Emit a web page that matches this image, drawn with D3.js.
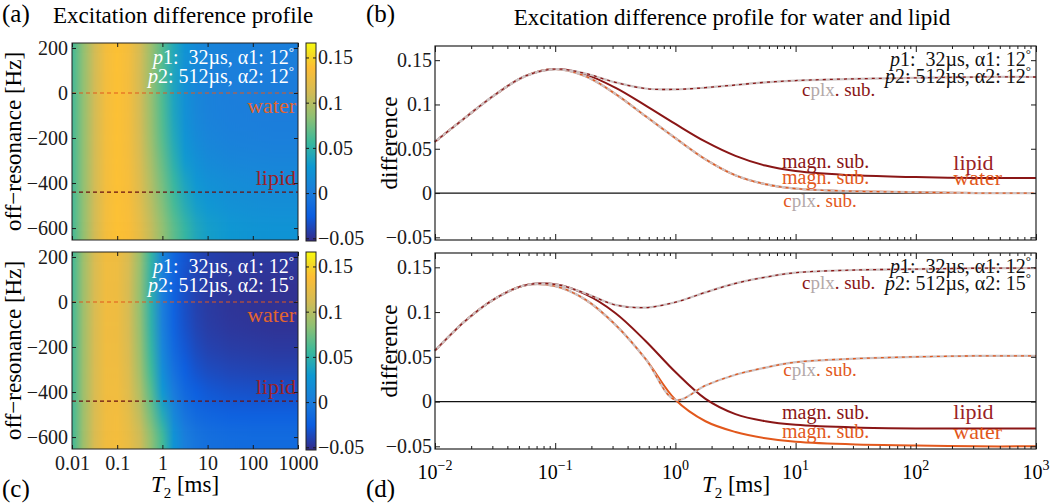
<!DOCTYPE html>
<html>
<head>
<meta charset="utf-8">
<script src="https://cdn.jsdelivr.net/npm/d3@7"></script>
<style>
  body { margin: 0; background: #fff; }
  svg text { font-family: "Liberation Serif", "DejaVu Serif", serif; }
</style>
</head>
<body>
<svg id="chart" width="1050" height="504"></svg>
<script>
// ---------- data ----------
const t2 = [0.01, 0.0178, 0.0316, 0.0562, 0.1, 0.178, 0.316, 0.562, 1, 1.78, 3.16, 5.62, 10, 31.6, 100, 316, 1000];
const offsets = [200, 100, 0, -100, -200, -300, -400, -500, -600];
const waterOffset = 0;
const lipidOffset = -440;

// heatmap (a): magnitude difference, rows follow `offsets`, columns follow `t2`
const mapA = [
  [.058, .085, .111, .132, .140, .132, .113, .089, .065, .042, .024, .014, .009, .005, .004, .003, .003],
  [.058, .085, .111, .132, .140, .132, .112, .088, .063, .039, .021, .011, .006, .003, .002, .001, .001],
  [.058, .085, .111, .132, .140, .132, .112, .087, .062, .038, .020, .010, .005, .002, .001, 0, 0],
  [.058, .085, .111, .132, .140, .132, .112, .088, .063, .039, .021, .011, .006, .003, .002, .001, .001],
  [.058, .085, .111, .132, .140, .132, .113, .089, .065, .042, .024, .014, .009, .005, .004, .003, .003],
  [.058, .085, .111, .132, .140, .133, .115, .093, .070, .047, .030, .020, .014, .010, .009, .008, .008],
  [.058, .085, .111, .132, .140, .134, .118, .097, .075, .054, .038, .027, .021, .017, .015, .014, .014],
  [.058, .085, .111, .132, .140, .135, .120, .100, .080, .060, .044, .033, .027, .021, .019, .018, .018],
  [.058, .085, .111, .132, .140, .136, .123, .105, .086, .068, .053, .041, .034, .028, .025, .024, .024]
];
// heatmap (c)
const mapC = [
  [.057, .090, .115, .130, .129, .115, .089, .052, .009, -.017, -.030, -.037, -.041, -.044, -.045, -.046, -.046],
  [.057, .090, .115, .130, .129, .114, .087, .049, .004, -.021, -.033, -.040, -.044, -.047, -.048, -.049, -.049],
  [.057, .090, .115, .130, .129, .114, .086, .048, .002, -.022, -.034, -.041, -.045, -.048, -.049, -.050, -.050],
  [.057, .090, .115, .130, .129, .114, .087, .049, .004, -.021, -.033, -.040, -.044, -.047, -.048, -.049, -.049],
  [.057, .090, .115, .130, .129, .115, .089, .052, .009, -.017, -.030, -.037, -.041, -.044, -.045, -.046, -.046],
  [.057, .090, .115, .130, .130, .117, .092, .057, .017, -.010, -.025, -.032, -.036, -.039, -.040, -.041, -.041],
  [.057, .090, .115, .130, .131, .119, .097, .065, .028, -.001, -.017, -.025, -.029, -.032, -.033, -.033, -.033],
  [.057, .090, .115, .130, .132, .122, .103, .074, .043, .011, -.008, -.016, -.020, -.023, -.024, -.024, -.024],
  [.057, .090, .115, .130, .133, .125, .110, .085, .059, .024, .003, -.006, -.010, -.013, -.014, -.014, -.014]
];

// profiles (b): alpha2 = 12 deg
const waterMagnB = [.058, .085, .111, .132, .140, .132, .112, .087, .062, .038, .020, .010, .005, .002, .001, 0, 0];
const waterCplxB = [.058, .085, .111, .132, .140, .132, .112, .087, .062, .038, .020, .010, .005, .002, .001, 0, 0];
const lipidMagnB = [.058, .085, .111, .132, .140, .134, .119, .099, .078, .058, .042, .031, .025, .020, .018, .017, .017];
const lipidCplxB = [.058, .085, .111, .132, .140, .135, .125, .118, .117, .119, .122, .125, .127, .129, .130, .131, .131];

// profiles (d): alpha2 = 15 deg
const waterMagnD = [.057, .090, .115, .130, .129, .114, .086, .048, .002, -.022, -.034, -.041, -.045, -.048, -.049, -.050, -.050];
const waterCplxD = [.057, .090, .115, .130, .129, .114, .086, .048, .002, .018, .030, .038, .044, .048, .050, .051, .051];
const lipidMagnD = [.057, .090, .115, .130, .131, .120, .099, .068, .033, .003, -.014, -.022, -.026, -.029, -.030, -.030, -.030];
const lipidCplxD = [.057, .090, .115, .130, .131, .121, .108, .105, .111, .122, .132, .139, .144, .147, .148, .149, .149];

const offsetTicks = [200, 0, -200, -400, -600];
const t2Ticks = [0.01, 0.1, 1, 10, 100, 1000];
const diffTicks = [0.15, 0.1, 0.05, 0, -0.05];
const pulse1 = ['32µs', '12'];
const pulse2B = ['512µs', '12'];
const pulse2D = ['512µs', '15'];

// ---------- setup ----------
const vMin = -0.053, vMax = 0.166;
const parula = ['#352a87', '#0b5de0', '#1a7ddb', '#0d98d2', '#3cb99a', '#8ec073', '#d3bb55', '#fdbd35', '#f4d926', '#f9fb0e'];
const parulaPos = [0, 0.125, 0.25, 0.375, 0.5, 0.625, 0.75, 0.875, 0.9375, 1];
const color = d3.scaleLinear()
  .domain(parulaPos.map(p => vMin + p * (vMax - vMin)))
  .range(parula)
  .clamp(true);

const waterCol = '#e2581c';
const lipidCol = '#8a1616';
const lipidText = '#9a2226';
const greyCol = '#cdc1c1';
const fmt = d3.format('~g');

const svg = d3.select('#chart');
const defs = svg.append('defs');

function styleAxis(sel, size) {
  sel.select('.domain').remove();
  sel.attr('font-family', null).attr('font-size', size).attr('color', '#1a1a1a');
}

// ---------- heatmaps ----------
const hx = d3.scaleLog().domain([0.01, 1000]).range([72, 298]);

function heatmap(id, grid, top, bottom, a2, showX) {
  const hy = d3.scaleLinear().domain([-653, 222]).range([bottom, top]);
  const [x0, x1] = hx.range();
  const g = svg.append('g');

  grid.forEach((row, i) => {
    const gr = defs.append('linearGradient').attr('id', `${id}-row${i}`)
      .attr('gradientUnits', 'userSpaceOnUse')
      .attr('x1', x0).attr('x2', x1).attr('y1', 0).attr('y2', 0);
    gr.selectAll('stop').data(row).join('stop')
      .attr('offset', (d, j) => (hx(t2[j]) - x0) / (x1 - x0))
      .attr('stop-color', d => color(d));
  });
  defs.append('clipPath').attr('id', id + '-clip')
    .append('rect').attr('x', x0).attr('y', top).attr('width', x1 - x0).attr('height', bottom - top);
  defs.append('filter').attr('id', id + '-blur')
    .attr('filterUnits', 'userSpaceOnUse')
    .attr('color-interpolation-filters', 'sRGB')
    .attr('x', x0 - 20).attr('y', top - 80).attr('width', x1 - x0 + 40).attr('height', bottom - top + 160)
    .append('feGaussianBlur').attr('stdDeviation', '0 9');

  const cells = g.append('g').attr('clip-path', `url(#${id}-clip)`)
    .append('g').attr('filter', `url(#${id}-blur)`);
  const last = offsets.length - 1;
  cells.selectAll('rect').data(offsets).join('rect')
    .attr('x', x0).attr('width', x1 - x0)
    .attr('y', (d, i) => i === 0 ? top - 50 : hy(d + 50))
    .attr('height', (d, i) => (i === last ? bottom + 50 : hy(d - 50)) - (i === 0 ? top - 50 : hy(d + 50)))
    .attr('fill', (d, i) => `url(#${id}-row${i})`);

  // water / lipid lines
  g.append('line').attr('x1', x0).attr('x2', x1).attr('y1', hy(waterOffset)).attr('y2', hy(waterOffset))
    .attr('stroke', waterCol).attr('stroke-width', 1.2).attr('stroke-dasharray', '4,3');
  g.append('line').attr('x1', x0).attr('x2', x1).attr('y1', hy(lipidOffset)).attr('y2', hy(lipidOffset))
    .attr('stroke', '#6a1010').attr('stroke-width', 1.2).attr('stroke-dasharray', '4,3');
  g.append('text').attr('x', x1 - 2).attr('y', hy(waterOffset) + 20).attr('text-anchor', 'end')
    .attr('font-size', 22).attr('fill', '#e3652e').text('water');
  g.append('text').attr('x', x1 - 2).attr('y', hy(lipidOffset) - 7).attr('text-anchor', 'end')
    .attr('font-size', 22).attr('fill', lipidText).text('lipid');

  pulseText(g, x1 - 4, top + 21, top + 40, a2, '#fff');

  g.append('rect').attr('x', x0).attr('y', top).attr('width', x1 - x0).attr('height', bottom - top)
    .attr('fill', 'none').attr('stroke', '#222').attr('stroke-width', 1);

  g.append('g').attr('transform', `translate(${x0},0)`)
    .call(d3.axisLeft(hy).tickValues(offsetTicks).tickSizeInner(-4).tickSizeOuter(0).tickPadding(4).tickFormat(d3.format('d')))
    .call(styleAxis, 20);
  g.append('g').attr('transform', `translate(${x1},0)`)
    .call(d3.axisRight(hy).tickValues(offsetTicks).tickSizeInner(-4).tickSizeOuter(0).tickFormat(''))
    .call(styleAxis, 20);
  g.append('g').attr('transform', `translate(0,${top})`)
    .call(d3.axisTop(hx).tickValues(t2Ticks).tickSizeInner(-4).tickSizeOuter(0).tickFormat(''))
    .call(styleAxis, 20);
  g.append('g').attr('transform', `translate(0,${bottom})`)
    .call(d3.axisBottom(hx).tickValues(t2Ticks).tickSizeInner(-4).tickSizeOuter(0).tickPadding(7)
      .tickFormat(showX ? fmt : ''))
    .call(styleAxis, 20);

  g.append('text').attr('transform', `translate(21,${(top + bottom) / 2}) rotate(-90)`)
    .attr('text-anchor', 'middle').attr('font-size', 23).text('off\u2212resonance [Hz]');

  // colorbar
  const cy = d3.scaleLinear().domain([vMin, vMax]).range([bottom + 1, top]);
  g.append('rect').attr('x', 306).attr('y', top).attr('width', 10).attr('height', bottom + 1 - top)
    .attr('fill', 'url(#parula)').attr('stroke', '#222').attr('stroke-width', 1);
  g.append('g').attr('transform', 'translate(316,0)')
    .call(d3.axisRight(cy).tickValues(diffTicks).tickSizeInner(-3).tickSizeOuter(0).tickPadding(2).tickFormat(fmt))
    .call(styleAxis, 20);
  g.append('g').attr('transform', 'translate(306,0)')
    .call(d3.axisLeft(cy).tickValues(diffTicks).tickSizeInner(-3).tickSizeOuter(0).tickFormat(''))
    .call(styleAxis, 20);
}

function pulseText(g, xEnd, y1, y2, p2, fill) {
  const lines = [[y1, '1:  ' + pulse1[0] + ', α1: ' + pulse1[1]], [y2, '2: ' + p2[0] + ', α2: ' + p2[1]]];
  lines.forEach(([y, s]) => {
    const t = g.append('text').attr('x', xEnd).attr('y', y).attr('text-anchor', 'end')
      .attr('font-size', 20).attr('fill', fill).style('white-space', 'pre');
    t.append('tspan').attr('font-style', 'italic').text('p');
    t.append('tspan').text(s);
    t.append('tspan').attr('dy', -8).attr('font-size', 13).text('°');
  });
}

const pg = defs.append('linearGradient').attr('id', 'parula')
  .attr('x1', 0).attr('y1', 1).attr('x2', 0).attr('y2', 0);
pg.selectAll('stop').data(parula).join('stop')
  .attr('offset', (d, i) => parulaPos[i])
  .attr('stop-color', d => d);

heatmap('ha', mapA, 43, 240, pulse2B, false);
heatmap('hc', mapC, 252, 449, pulse2D, true);

// ---------- profile panels ----------
const xL = d3.scaleLog().domain([0.01, 1000]).range([435, 1036]);
const majors = t2Ticks;
const minors = xL.ticks().filter(d => !majors.some(m => Math.abs(m - d) / m < 1e-6));

function cplxLabel(g, x, y, col) {
  const t = g.append('text').attr('x', x).attr('y', y).attr('font-size', 19).attr('fill', col);
  t.append('tspan').text('c');
  t.append('tspan').attr('fill', '#b3a8a8').text('plx');
  t.append('tspan').text('. sub.');
}

function profile(top, bottom, series, p2, labels, showX) {
  const y = d3.scaleLinear().domain([vMin, vMax]).range([bottom, top]);
  const g = svg.append('g');
  const line = d3.line().x((d, i) => xL(t2[i])).y(d => y(d)).curve(d3.curveCatmullRom.alpha(0.5));

  g.append('line').attr('x1', xL.range()[0]).attr('x2', xL.range()[1]).attr('y1', y(0)).attr('y2', y(0))
    .attr('stroke', '#111').attr('stroke-width', 1.2);

  g.append('path').attr('d', line(series.waterMagn)).attr('fill', 'none').attr('stroke', waterCol).attr('stroke-width', 2);
  g.append('path').attr('d', line(series.lipidMagn)).attr('fill', 'none').attr('stroke', lipidCol).attr('stroke-width', 2);
  [[series.waterCplx, waterCol], [series.lipidCplx, lipidCol]].forEach(([vals, col]) => {
    g.append('path').attr('d', line(vals)).attr('fill', 'none').attr('stroke', greyCol).attr('stroke-width', 2.2);
    g.append('path').attr('d', line(vals)).attr('fill', 'none').attr('stroke', col)
      .attr('stroke-width', 1.3).attr('stroke-dasharray', '3,4');
  });

  cplxLabel(g, xL(labels.cplxLipid[0]), y(labels.cplxLipid[1]), lipidCol);
  cplxLabel(g, xL(labels.cplxWater[0]), y(labels.cplxWater[1]), waterCol);
  g.append('text').attr('x', xL(labels.magnLipid[0])).attr('y', y(labels.magnLipid[1]))
    .attr('font-size', 20).attr('fill', lipidCol).text('magn. sub.');
  g.append('text').attr('x', xL(labels.magnWater[0])).attr('y', y(labels.magnWater[1]))
    .attr('font-size', 20).attr('fill', waterCol).text('magn. sub.');
  g.append('text').attr('x', xL(labels.lipid[0])).attr('y', y(labels.lipid[1]))
    .attr('font-size', 22).attr('fill', lipidText).text('lipid');
  g.append('text').attr('x', xL(labels.water[0])).attr('y', y(labels.water[1]))
    .attr('font-size', 22).attr('fill', waterCol).text('water');

  pulseText(g, 1031, top + 20, top + 37, p2, '#111');

  g.append('rect').attr('x', 435).attr('y', top).attr('width', 601).attr('height', bottom - top)
    .attr('fill', 'none').attr('stroke', '#222').attr('stroke-width', 1.2);

  g.append('g').attr('transform', 'translate(435,0)')
    .call(d3.axisLeft(y).tickValues(diffTicks).tickSizeInner(-5).tickSizeOuter(0).tickPadding(3).tickFormat(fmt))
    .call(styleAxis, 20);
  g.append('g').attr('transform', 'translate(1036,0)')
    .call(d3.axisRight(y).tickValues(diffTicks).tickSizeInner(-5).tickSizeOuter(0).tickFormat(''))
    .call(styleAxis, 20);
  [[top, d3.axisTop], [bottom, d3.axisBottom]].forEach(([yy, ax]) => {
    g.append('g').attr('transform', `translate(0,${yy})`)
      .call(ax(xL).tickValues(majors).tickSizeInner(-6).tickSizeOuter(0).tickFormat(''))
      .call(styleAxis, 20);
    g.append('g').attr('transform', `translate(0,${yy})`)
      .call(ax(xL).tickValues(minors).tickSizeInner(-3).tickSizeOuter(0).tickFormat(''))
      .call(styleAxis, 20);
  });

  if (showX) {
    const lab = g.append('g').selectAll('text').data(majors).join('text')
      .attr('x', d => xL(d)).attr('y', bottom + 30).attr('text-anchor', 'middle').attr('font-size', 20);
    lab.append('tspan').text('10');
    lab.append('tspan').attr('dy', -9).attr('font-size', 14).text(d => fmt(Math.round(Math.log10(d))));
  }

  g.append('text').attr('transform', `translate(397,${(top + bottom) / 2}) rotate(-90)`)
    .attr('text-anchor', 'middle').attr('font-size', 23).text('difference');
}

profile(46, 240,
  { waterMagn: waterMagnB, waterCplx: waterCplxB, lipidMagn: lipidMagnB, lipidCplx: lipidCplxB },
  pulse2B,
  { cplxLipid: [11.3, 0.110], cplxWater: [7.9, -0.0157], magnLipid: [7.7, 0.0283], magnWater: [7.7, 0.0102],
    lipid: [205, 0.026], water: [205, 0.009] },
  false);

profile(253, 449,
  { waterMagn: waterMagnD, waterCplx: waterCplxD, lipidMagn: lipidMagnD, lipidCplx: lipidCplxD },
  pulse2D,
  { cplxLipid: [11.3, 0.1258], cplxWater: [7.9, 0.0286], magnLipid: [7.7, -0.0194], magnWater: [7.7, -0.0407],
    lipid: [205, -0.0194], water: [205, -0.0418] },
  true);

// ---------- titles and axis labels ----------
function t2Label(cx) {
  const t = svg.append('text').attr('x', cx).attr('y', 492).attr('text-anchor', 'middle').attr('font-size', 23);
  t.append('tspan').attr('font-style', 'italic').text('T');
  t.append('tspan').attr('font-size', 15).attr('dy', 6).text('2');
  t.append('tspan').attr('dy', -6).text(' [ms]');
}
t2Label(185);
t2Label(736);

svg.append('text').attr('x', 2).attr('y', 22).attr('font-size', 25).text('(a)');
svg.append('text').attr('x', 366).attr('y', 22).attr('font-size', 25).text('(b)');
svg.append('text').attr('x', 2).attr('y', 497).attr('font-size', 25).text('(c)');
svg.append('text').attr('x', 366).attr('y', 497).attr('font-size', 25).text('(d)');
svg.append('text').attr('x', 53).attr('y', 23).attr('font-size', 23).text('Excitation difference profile');
svg.append('text').attr('x', 732).attr('y', 25).attr('text-anchor', 'middle').attr('font-size', 23)
  .text('Excitation difference profile for water and lipid');
</script>
</body>
</html>
